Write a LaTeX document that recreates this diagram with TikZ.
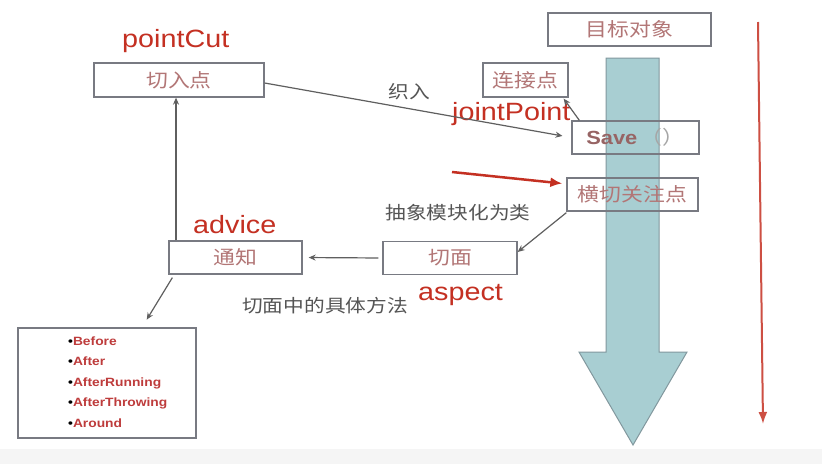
\documentclass[tikz,border=0pt]{standalone}
\usepackage{fontspec}
\usepackage{graphicx}
\setmainfont{Liberation Sans}
\newfontfamily\cjk{Noto Sans CJK SC}
\usetikzlibrary{arrows.meta,calc}
\newcommand\wide[1]{\scalebox{1.15}[1]{#1}}
\definecolor{lblred}{RGB}{196,48,34}
\definecolor{boxtxt}{RGB}{178,118,118}
\definecolor{boxline}{RGB}{120,122,130}
\definecolor{conncol}{RGB}{95,95,95}
\definecolor{graytxt}{RGB}{85,85,85}
\definecolor{teal}{RGB}{168,206,210}
\definecolor{tealline}{RGB}{130,152,158}
\definecolor{itemred}{RGB}{190,60,60}
\begin{document}
\begin{tikzpicture}[x=1pt,y=-1pt,
  box/.style={draw=boxline,line width=1.3pt,rectangle,inner sep=0pt,
     font=\fontsize{19}{22}\selectfont\cjk,text=boxtxt},
  conn/.style={draw=conncol,line width=1.2pt,-{Stealth[length=7pt,width=6pt]}},
  redlbl/.style={text=lblred,font=\fontsize{25}{28}\selectfont,inner sep=0pt},
  graylbl/.style={text=graytxt,font=\fontsize{18}{22}\selectfont\cjk,inner sep=0pt}]
\useasboundingbox (0,0) rectangle (822,464);
\fill[white] (0,0) rectangle (822,464);
\fill[black!4] (0,449) rectangle (822,464);
% big teal arrow (behind the boxes)
\filldraw[fill=teal,draw=tealline,line width=1pt]
  (606,58) -- (659,58) -- (659,352) -- (687,352) -- (633,445) -- (579,352) -- (606,352) -- cycle;
% boxes
\node[box,minimum width=170pt,minimum height=34pt] (pc) at (179,80) {\wide{切入点}};
\node[box,minimum width=133pt,minimum height=33pt] (notify) at (235.5,257.5) {\wide{通知}};
\node[box,minimum width=134pt,minimum height=33pt] (aspect) at (450,258) {\wide{切面}};
\node[box,minimum width=163pt,minimum height=33pt] (target) at (629.5,29.5) {\wide{目标对象}};
\node[box,minimum width=85pt,minimum height=34pt] (jp) at (525.5,80) {\wide{连接点}};
\node[box,minimum width=127pt,minimum height=33pt] (save) at (635.5,137.5) {\wide{{\rmfamily\bfseries\color{boxtxt!85!black}Save}\,{\color{black!35}（）}}};
\node[box,minimum width=131pt,minimum height=33pt] (cross) at (632.5,194.5) {\wide{横切关注点}};
\node[box,minimum width=178pt,minimum height=110pt] (list) at (107,383) {};
\node[anchor=west,inner sep=0pt,align=left,font=\fontsize{12}{20.5}\selectfont\bfseries,text=itemred] (items) at (68,382)
  {\wide{{\color{black}\textbullet}Before}\\\wide{{\color{black}\textbullet}After}\\\wide{{\color{black}\textbullet}AfterRunning}\\\wide{{\color{black}\textbullet}AfterThrowing}\\\wide{{\color{black}\textbullet}Around}};
% labels
\node[redlbl,anchor=base west] (lpc) at (122,47) {\wide{pointCut}};
\node[redlbl,anchor=base west] (ladv) at (193,233) {\wide{advice}};
\node[redlbl,anchor=base west] (lasp) at (418,300) {\wide{aspect}};
\node[redlbl,anchor=base west] (ljp) at (452,120) {\wide{jointPoint}};
\node[graylbl] (weave) at (409,92) {\wide{织入}};
\node[graylbl] (abstr) at (458,213) {\wide{抽象模块化为类}};
\node[graylbl] (method) at (325,306) {\wide{切面中的具体方法}};
% connectors
\draw[conn,shorten >=9pt] ([yshift=-3pt]pc.east) -- (save.west);
\draw[conn] ([xshift=-3pt]pc.south |- notify.north) -- ([xshift=-3pt]pc.south);
\draw[conn,shorten >=6pt,shorten <=4pt] (aspect.west) -- (notify.east);
\draw[conn] ([yshift=-1pt]cross.south west) -- ([yshift=6pt]aspect.east);
\draw[conn,shorten >=9pt] ([xshift=4pt,yshift=-3pt]notify.south west) -- ([xshift=35pt]list.north);
\draw[conn] ([xshift=8pt]save.north west) -- ([xshift=-5pt,yshift=-1pt]jp.south east);
% red arrows
\coordinate (rs) at (452,172);
\draw[lblred,line width=2.5pt,-{Latex[length=12pt,width=10pt]}] (rs) -- ([xshift=-4pt,yshift=11pt]cross.west);
\coordinate (vt) at (758,22);
\coordinate (vb) at (763,424);
\draw[lblred!85,line width=2pt,-{Latex[length=12pt,width=9pt]}] (vt) -- (vb);
\end{tikzpicture}
\end{document}
